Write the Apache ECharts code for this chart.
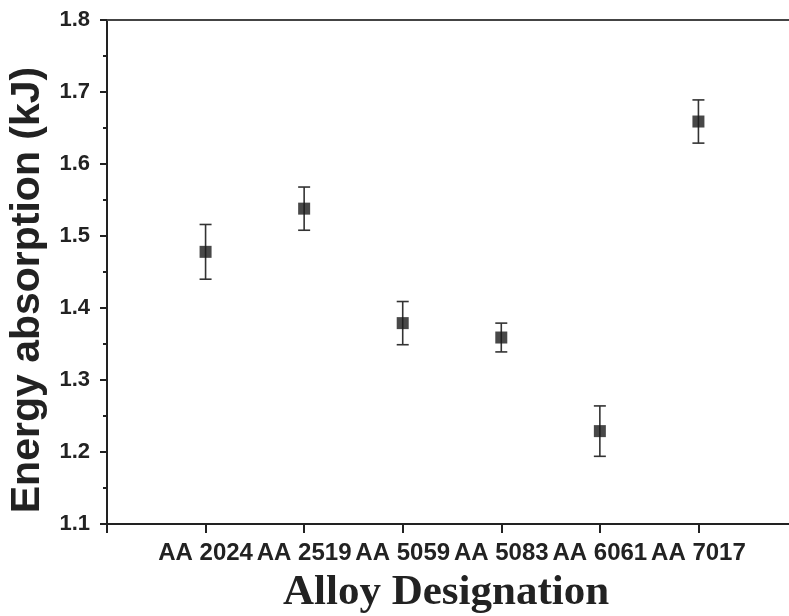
<!DOCTYPE html>
<html>
<head>
<meta charset="utf-8">
<script src="https://cdn.jsdelivr.net/npm/echarts@6/dist/echarts.min.js"></script>
<style>
  html, body { margin: 0; padding: 0; background: #fff; }
  #main { width: 789px; height: 616px; }
</style>
</head>
<body>
<div id="main"></div>
<script>
// alloys and measured energy absorption (kJ) with error
var alloys = ['AA 2024', 'AA 2519', 'AA 5059', 'AA 5083', 'AA 6061', 'AA 7017'];
var energy = [1.478, 1.538, 1.379, 1.359, 1.229, 1.659];
var errors = [0.038, 0.030, 0.030, 0.020, 0.035, 0.030];
var yTicks = { min: 1.1, max: 1.8, step: 0.1 };

var points = [];
var bars = [];
for (var i = 0; i < alloys.length; i++) {
    points.push([i + 1, energy[i]]);
    bars.push([i + 1, energy[i] - errors[i], energy[i] + errors[i]]);
}

var myChart = echarts.init(document.getElementById('main'));
var axisColor = '#222';

option = {
    animation: false,
    backgroundColor: '#fff',
    grid: { left: 107, top: 20, width: 690, bottom: 92, outerBoundsMode: 'none' },
    xAxis: [{
        type: 'value',
        min: 0,
        max: 7,
        interval: 1,
        name: 'Alloy Designation',
        nameLocation: 'middle',
        nameGap: 47,
        nameTextStyle: {
            fontFamily: 'Liberation Serif',
            fontWeight: 'bold',
            fontSize: 43,
            color: '#222',
            padding: [0, 12, 0, 0]
        },
        axisLine: { lineStyle: { color: axisColor, width: 2 } },
        axisTick: { inside: false, length: 9, lineStyle: { color: axisColor, width: 2 } },
        axisLabel: {
            margin: 17,
            fontFamily: 'Liberation Sans',
            fontWeight: 'bold',
            fontSize: 24,
            color: '#222',
            formatter: function (v) { return alloys[v - 1] || ''; }
        },
        splitLine: { show: false }
    }, {
        type: 'value',
        position: 'top',
        min: 0,
        max: 7,
        axisLine: { show: true, lineStyle: { color: '#444', width: 2 } },
        axisTick: { show: false },
        axisLabel: { show: false },
        splitLine: { show: false }
    }],
    yAxis: {
        type: 'value',
        min: yTicks.min,
        max: yTicks.max,
        interval: yTicks.step,
        name: 'Energy absorption (kJ)',
        nameLocation: 'middle',
        nameGap: 52,
        nameTextStyle: {
            fontFamily: 'Liberation Sans',
            fontWeight: 'bold',
            fontSize: 41,
            color: '#222',
            padding: [0, 36, 0, 0]
        },
        axisLine: { show: true, lineStyle: { color: axisColor, width: 2 } },
        axisTick: { show: true, inside: false, length: 7, lineStyle: { color: axisColor, width: 2 } },
        minorTick: { show: true, splitNumber: 2, length: 4, lineStyle: { color: axisColor, width: 2 } },
        axisLabel: {
            margin: 17,
            fontFamily: 'Liberation Sans',
            fontWeight: 'bold',
            fontSize: 22,
            color: '#222',
            formatter: function (v) { return v.toFixed(1); }
        },
        splitLine: { show: false }
    },
    series: [{
        type: 'custom',
        data: bars,
        z: 2,
        renderItem: function (params, api) {
            var x = api.value(0);
            var lo = api.coord([x, api.value(1)]);
            var hi = api.coord([x, api.value(2)]);
            var cap = 6;
            var style = { stroke: '#333', lineWidth: 1.6 };
            return {
                type: 'group',
                children: [
                    { type: 'line', shape: { x1: lo[0], y1: lo[1], x2: hi[0], y2: hi[1] }, style: style },
                    { type: 'line', shape: { x1: hi[0] - cap, y1: hi[1], x2: hi[0] + cap, y2: hi[1] }, style: style },
                    { type: 'line', shape: { x1: lo[0] - cap, y1: lo[1], x2: lo[0] + cap, y2: lo[1] }, style: style }
                ]
            };
        }
    }, {
        type: 'scatter',
        data: points,
        symbol: 'rect',
        symbolSize: 12,
        z: 3,
        itemStyle: { color: '#1a1a1a' }
    }]
};
myChart.setOption(option);
</script>
</body>
</html>
